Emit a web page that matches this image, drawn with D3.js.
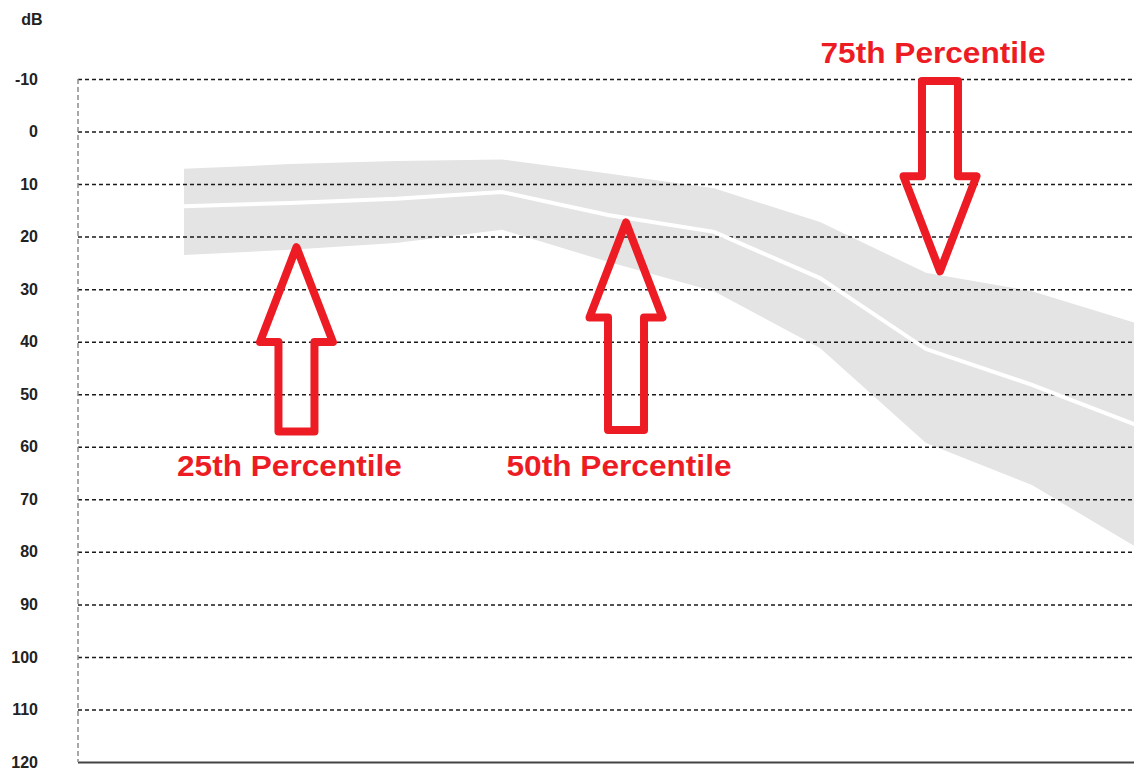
<!DOCTYPE html>
<html>
<head>
<meta charset="utf-8">
<script src="https://cdn.jsdelivr.net/npm/d3@7"></script>
<style>
  html, body { margin: 0; padding: 0; background: #fff; }
  svg { display: block; }
  .yAxis .tick text { font-family: "Liberation Sans", Arial, sans-serif; font-weight: bold; font-size: 16px; fill: #222; }
  .unit { font-family: "Liberation Sans", Arial, sans-serif; font-weight: bold; font-size: 16px; fill: #222; }
  .note { font-family: "Liberation Sans", Arial, sans-serif; font-weight: bold; font-size: 30px; fill: #ed1c24; }
</style>
</head>
<body>
<div id="chart"></div>
<script>
"use strict";

// x slots of the audiogram (the 125 Hz slot carries no data)
let freqs = [125, 250, 500, 750, 1000, 1500, 2000, 3000, 4000, 6000, 8000];
let dataFreqs = [250, 500, 750, 1000, 1500, 2000, 3000, 4000, 6000, 8000];

// hearing level in dB
let p75 = [7.1, 6.2, 5.6, 5.3, 8.0, 10.8, 17.2, 26.9, 30.4, 36.6];
let p50 = [14.2, 13.6, 12.8, 11.5, 15.9, 19.1, 27.9, 41.4, 48.2, 56.0];
let p25 = [23.5, 22.5, 21.2, 18.7, 24.8, 30.4, 41.2, 59.3, 67.3, 79.3];

let yTicks = [-10, 0, 10, 20, 30, 40, 50, 60, 70, 80, 90, 100, 110, 120];

// annotations: arrow tip/tail in dB, x as fractional slot index
let noteLabels = ["25th Percentile", "50th Percentile", "75th Percentile"];
let noteSlot = [2.061, 5.170, 8.132];
let noteTipDb = [22.0, 17.3, 26.6];
let noteTailDb = [57.1, 56.8, -9.6];
let noteLabelDb = [65.6, 65.6, -13.1];

let width = 1134;
let height = 769;
let margin = { top: 79, left: 78, bottom: 7 };
let plotRight = 1138;

let svg = d3.select("#chart")
  .append("svg")
  .attr("width", width)
  .attr("height", height)
  .attr("viewBox", [0, 0, width, height].join(" "));

let x = d3.scaleLinear()
  .domain([0, freqs.length - 1])
  .range([margin.left, plotRight]);

let y = d3.scaleLinear()
  .domain([-10, 120])
  .range([margin.top, height - margin.bottom]);

let xf = f => x(freqs.indexOf(f));

let rows = dataFreqs.map((f, i) => ({ f: f, top: p75[i], mid: p50[i], bot: p25[i] }));

// grey percentile band
let band = d3.area()
  .x(d => xf(d.f))
  .y0(d => y(d.bot))
  .y1(d => y(d.top));

svg.append("path")
  .datum(rows)
  .attr("d", band)
  .attr("fill", "#e4e4e4");

// horizontal grid + tick labels
let yAxis = d3.axisLeft(y)
  .tickValues(yTicks)
  .tickFormat(d => String(d))
  .tickSize(-(width - margin.left))
  .tickPadding(40);

let yG = svg.append("g")
  .attr("class", "yAxis")
  .attr("transform", "translate(" + margin.left + ", 0)")
  .call(yAxis);

yG.select(".domain").remove();

yG.selectAll(".tick line")
  .attr("stroke", "#1a1a1a")
  .attr("stroke-width", 1.5)
  .attr("stroke-dasharray", "4,3");

yG.selectAll(".tick")
  .filter(d => d === 120)
  .select("line")
  .attr("stroke", "#444")
  .attr("stroke-width", 2)
  .attr("stroke-dasharray", null);

// median as a white line through the band
let medianLine = d3.line()
  .x(d => xf(d.f))
  .y(d => y(d.mid));

svg.append("path")
  .datum(rows)
  .attr("d", medianLine)
  .attr("fill", "none")
  .attr("stroke", "#fff")
  .attr("stroke-width", 4);

// dashed vertical axis
svg.append("line")
  .attr("x1", margin.left)
  .attr("x2", margin.left)
  .attr("y1", y(-10))
  .attr("y2", y(120))
  .attr("stroke", "#8c8c8c")
  .attr("stroke-width", 1.5)
  .attr("stroke-dasharray", "5,3");

svg.append("text")
  .attr("class", "unit")
  .attr("x", 32)
  .attr("y", 25)
  .attr("text-anchor", "middle")
  .text("dB");

// red arrows and labels
let headLen = 95, headHalf = 36.5, shaftHalf = 18;

noteLabels.forEach((label, i) => {
  let cx = x(noteSlot[i]);
  let tip = y(noteTipDb[i]);
  let tail = y(noteTailDb[i]);
  let dir = tail > tip ? 1 : -1;
  let base = tip + dir * headLen;

  let pts = [
    [cx, tip],
    [cx + headHalf, base],
    [cx + shaftHalf, base],
    [cx + shaftHalf, tail],
    [cx - shaftHalf, tail],
    [cx - shaftHalf, base],
    [cx - headHalf, base]
  ];

  svg.append("path")
    .attr("d", d3.line()(pts) + "Z")
    .attr("fill", "none")
    .attr("stroke", "#ed1c24")
    .attr("stroke-width", 8)
    .attr("stroke-linejoin", "round");

  svg.append("text")
    .attr("class", "note")
    .attr("x", cx - 7)
    .attr("y", y(noteLabelDb[i]))
    .attr("text-anchor", "middle")
    .attr("textLength", 225)
    .attr("lengthAdjust", "spacingAndGlyphs")
    .text(label);
});
</script>
</body>
</html>
